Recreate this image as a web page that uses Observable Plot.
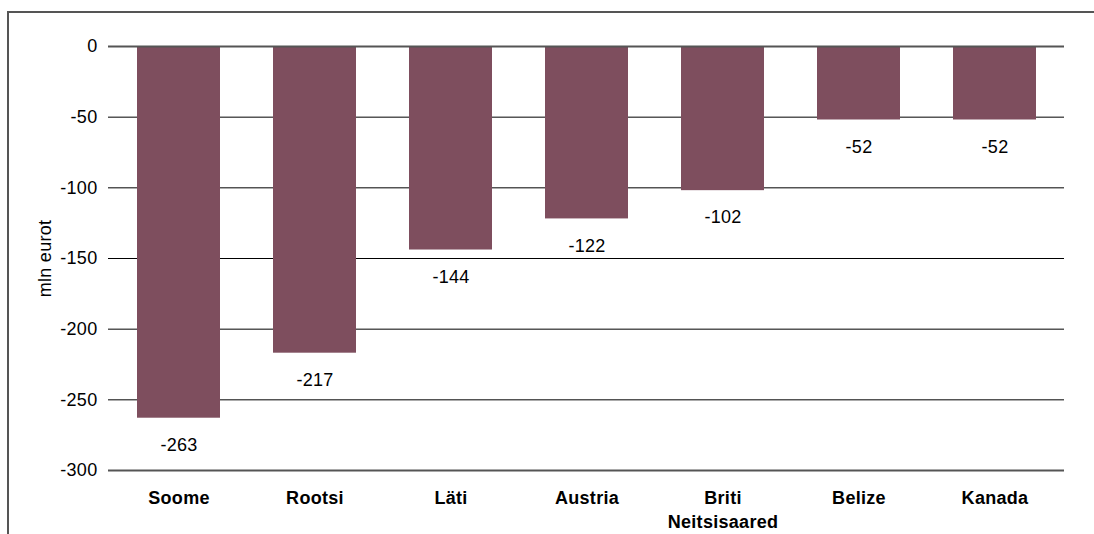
<!DOCTYPE html>
<html>
<head>
<meta charset="utf-8">
<script src="https://cdn.jsdelivr.net/npm/d3@7"></script>
<script src="https://cdn.jsdelivr.net/npm/@observablehq/plot@0.6"></script>
<style>
  html, body { margin: 0; padding: 0; background: #fff; }
  #wrap { position: relative; width: 1094px; height: 534px; overflow: hidden; }
  #frame { position: absolute; left: 7px; top: 11px; right: 0; bottom: -5px;
           border-top: 2px solid #555; border-left: 2px solid #555; pointer-events: none; }
  #chart { position: absolute; left: 0; top: 0; }
  #chart svg text { letter-spacing: 0.3px; }
</style>
</head>
<body>
<div id="wrap"><div id="chart"></div><div id="frame"></div></div>
<script>
const countries = ["Soome", "Rootsi", "Läti", "Austria", "Briti\nNeitsisaared", "Belize", "Kanada"];
const values = [-263, -217, -144, -122, -102, -52, -52];
const yTicks = [0, -50, -100, -150, -200, -250, -300];
const yLabel = "mln eurot";

const data = countries.map((c, i) => ({country: c, value: values[i]}));
const blackTicks = yTicks.filter(t => t !== 0 && t !== -300);
const grayTicks = [0, -300];

const chart = Plot.plot({
  width: 1094,
  height: 534,
  marginLeft: 108,
  marginRight: 30,
  marginTop: 46,
  marginBottom: 64,
  style: {fontFamily: "'Liberation Sans', Arial, Helvetica, sans-serif", fontSize: "18px", color: "#000", background: "transparent"},
  x: {domain: countries, paddingInner: 0.392, paddingOuter: 0.196, label: null},
  y: {domain: [-300, 0], label: null},
  marks: [
    Plot.ruleY(blackTicks, {stroke: "#000", strokeWidth: 1}),
    Plot.barY(data, {x: "country", y: "value", fill: "#7E4E5E"}),
    Plot.ruleY(grayTicks, {stroke: "#555", strokeWidth: 2}),
    Plot.text(data, {x: "country", y: "value", text: d => String(d.value), dy: 27, fontSize: 18, fill: "#000"}),
    Plot.axisY({ticks: yTicks, tickFormat: d => String(d), tickSize: 0, tickPadding: 11, fontSize: 18, label: yLabel, labelAnchor: "center", labelArrow: "none", labelOffset: 70}),
    Plot.axisX({tickSize: 0, tickPadding: 17, fontSize: 18, fontWeight: "bold", lineHeight: 1.3})
  ]
});
document.getElementById("chart").appendChild(chart);
</script>
</body>
</html>
